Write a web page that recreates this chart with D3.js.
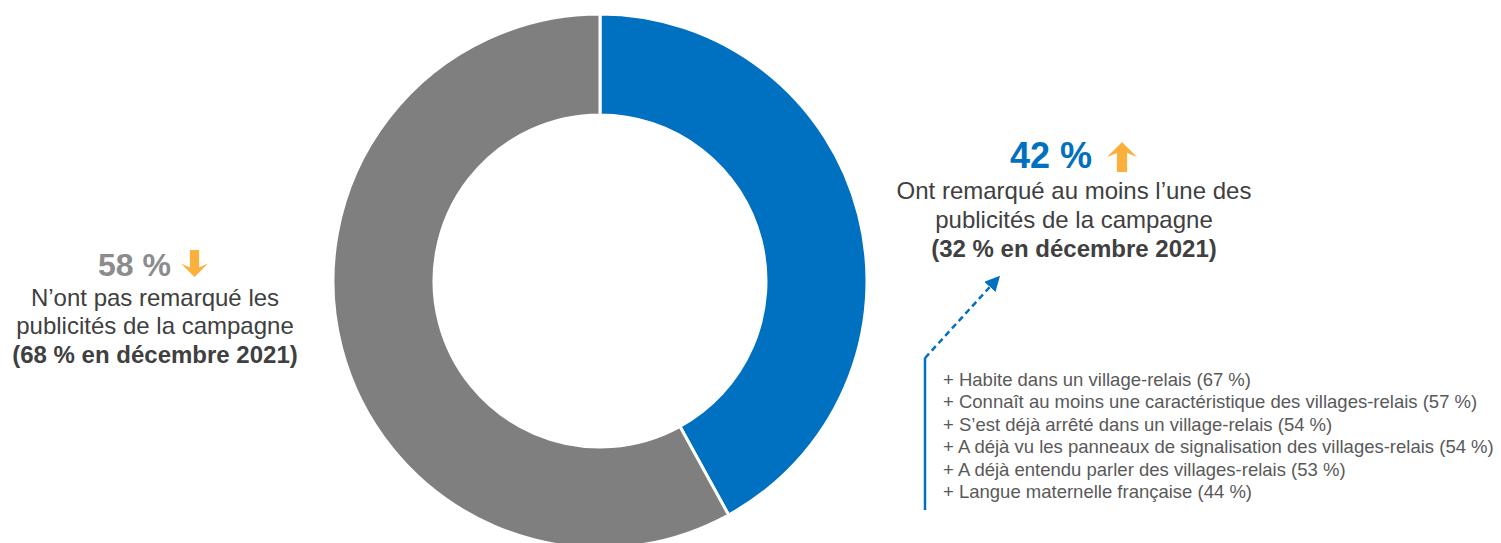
<!DOCTYPE html>
<html lang="fr">
<head>
<meta charset="utf-8">
<script src="https://cdn.jsdelivr.net/npm/d3@7"></script>
<style>
  html, body { margin: 0; padding: 0; background: #ffffff; }
  svg { display: block; font-family: "Liberation Sans", Arial, Helvetica, sans-serif; }
</style>
</head>
<body>
<svg id="chart" width="1501" height="543"></svg>
<script>
// Survey result: share of respondents who noticed the campaign ads
const categories = ["Ont remarqué", "N’ont pas remarqué"];
const values = [42, 58];
const previousValues = [32, 68];
const sliceColors = ["#0070C0", "#7F7F7F"];

// Over-represented profiles among those who noticed the ads
const profileLabels = [
  "Habite dans un village-relais",
  "Connaît au moins une caractéristique des villages-relais",
  "S’est déjà arrêté dans un village-relais",
  "A déjà vu les panneaux de signalisation des villages-relais",
  "A déjà entendu parler des villages-relais",
  "Langue maternelle française"
];
const profileValues = [67, 57, 54, 54, 53, 44];

const svg = d3.select("#chart");
const cx = 600, cy = 281, outerR = 267, innerR = 166;

// Donut
const pie = d3.pie().sort(null).value(d => d.value);
const arc = d3.arc().innerRadius(innerR).outerRadius(outerR);
const data = categories.map((c, i) => ({ name: c, value: values[i], color: sliceColors[i] }));

svg.append("g")
  .attr("transform", `translate(${cx},${cy})`)
  .selectAll("path")
  .data(pie(data))
  .join("path")
  .attr("d", arc)
  .attr("fill", d => d.data.color)
  .attr("stroke", "#ffffff")
  .attr("stroke-width", 3);

// Trend arrows (up / down)
function trendArrow(x, y, w, h, up) {
  const stem = w * 0.34, head = h * 0.5;
  let pts;
  if (up) {
    pts = [[x + w / 2, y], [x + w, y + head], [x + w / 2 + stem / 2, y + head - 4],
           [x + w / 2 + stem / 2, y + h], [x + w / 2 - stem / 2, y + h],
           [x + w / 2 - stem / 2, y + head - 4], [x, y + head]];
  } else {
    pts = [[x + w / 2, y + h], [x + w, y + h - head], [x + w / 2 + stem / 2, y + h - head + 4],
           [x + w / 2 + stem / 2, y], [x + w / 2 - stem / 2, y],
           [x + w / 2 - stem / 2, y + h - head + 4], [x, y + h - head]];
  }
  svg.append("polygon")
    .attr("points", pts.map(p => p.join(",")).join(" "))
    .attr("fill", "#FBB03B");
}

// Right annotation (noticed)
const rightX = 1074;
svg.append("text")
  .attr("x", 1010).attr("y", 168)
  .attr("font-size", 36).attr("font-weight", "bold").attr("fill", "#0070C0")
  .text(`${values[0]} %`);
trendArrow(1107, 142, 30, 30, true);

const rightLines = ["Ont remarqué au moins l’une des", "publicités de la campagne"];
rightLines.forEach((t, i) => {
  svg.append("text")
    .attr("x", rightX).attr("y", 199 + i * 29)
    .attr("text-anchor", "middle")
    .attr("font-size", 24).attr("fill", "#404040")
    .text(t);
});
svg.append("text")
  .attr("x", rightX).attr("y", 257)
  .attr("text-anchor", "middle")
  .attr("font-size", 24).attr("font-weight", "bold").attr("fill", "#404040")
  .text(`(${previousValues[0]} % en décembre 2021)`);

// Left annotation (not noticed)
const leftX = 155;
svg.append("text")
  .attr("x", 98).attr("y", 276)
  .attr("font-size", 32).attr("font-weight", "bold").attr("fill", "#8C8C8C")
  .text(`${values[1]} %`);
trendArrow(181, 250, 27, 27, false);

const leftLines = ["N’ont pas remarqué les", "publicités de la campagne"];
leftLines.forEach((t, i) => {
  svg.append("text")
    .attr("x", leftX).attr("y", 306 + i * 28)
    .attr("text-anchor", "middle")
    .attr("font-size", 24).attr("fill", "#404040")
    .text(t);
});
svg.append("text")
  .attr("x", leftX).attr("y", 363)
  .attr("text-anchor", "middle")
  .attr("font-size", 24).attr("font-weight", "bold").attr("fill", "#404040")
  .text(`(${previousValues[1]} % en décembre 2021)`);

// Connector from the profile list to the noticed label
svg.append("defs").append("marker")
  .attr("id", "arrowHead")
  .attr("viewBox", "0 0 10 10")
  .attr("refX", 8).attr("refY", 5)
  .attr("markerWidth", 6).attr("markerHeight", 6)
  .attr("orient", "auto")
  .append("path")
  .attr("d", "M0,0 L10,5 L0,10 Z")
  .attr("fill", "#0070C0");

svg.append("line")
  .attr("x1", 925).attr("y1", 510).attr("x2", 925).attr("y2", 358)
  .attr("stroke", "#0070C0").attr("stroke-width", 2.5);
svg.append("line")
  .attr("x1", 925).attr("y1", 358).attr("x2", 998).attr("y2", 278)
  .attr("stroke", "#0070C0").attr("stroke-width", 2.5)
  .attr("stroke-dasharray", "6,4")
  .attr("marker-end", "url(#arrowHead)");

// Profile list
const listY = d3.scaleLinear().domain([0, profileLabels.length - 1]).range([386, 498]);
svg.append("g")
  .selectAll("text")
  .data(profileLabels)
  .join("text")
  .attr("x", 943)
  .attr("y", (d, i) => listY(i))
  .attr("font-size", 18.5)
  .attr("fill", "#595959")
  .text((d, i) => `+ ${d} (${profileValues[i]} %)`);
</script>
</body>
</html>
